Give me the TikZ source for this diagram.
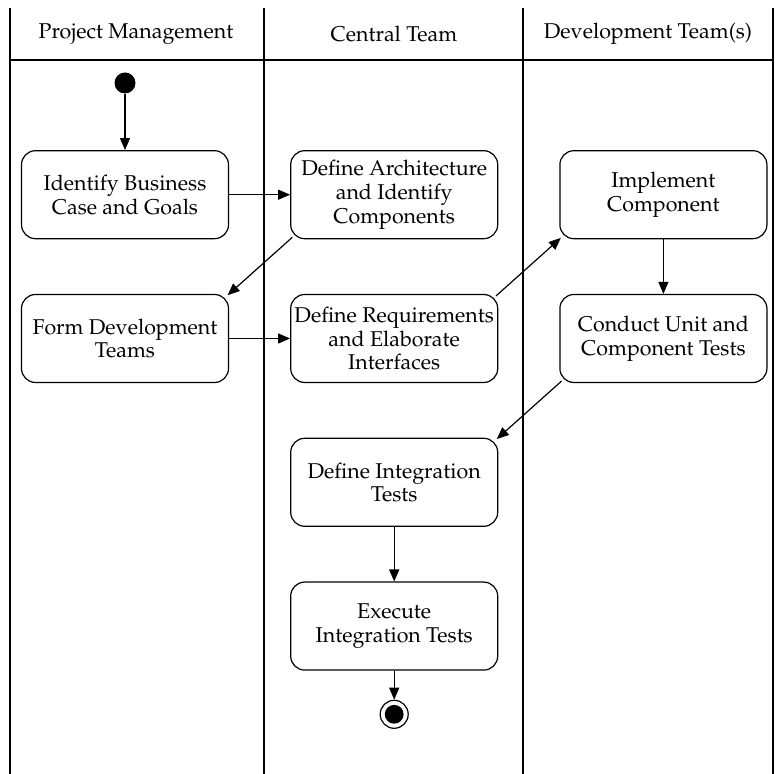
\documentclass[tikz,border=0pt]{standalone}
\usepackage[T1]{fontenc}
\usepackage{mathpazo}
\usetikzlibrary{positioning,arrows.meta}

\begin{document}
\begin{tikzpicture}[x=0.5pt,y=-0.5pt,node distance=27.3pt,>={Triangle[length=6pt,width=5pt]},line width=0.6pt]
\tikzstyle{activity}=[rectangle,rounded corners=7pt,draw=black,align=center,minimum width=103.5pt,minimum height=44pt,inner sep=1pt,font=\fontsize{10.7}{11.8}\selectfont]
\tikzstyle{lanehead}=[font=\fontsize{10.7}{11.8}\selectfont]
\tikzstyle{startdot}=[circle,fill=black,inner sep=0pt,minimum size=10.5pt]
\tikzstyle{enddot}=[circle,draw=black,inner sep=0pt,minimum size=14pt,
  path picture={\fill (path picture bounding box.center) circle (4.7pt);}]
\tikzstyle{cross}=[->,shorten <=-1.5pt,shorten >=-1pt]
\useasboundingbox (0,0) rectangle (783,774);
% swimlanes
\draw (10,8) -- (10,774);
\draw (264,8) -- (264,774);
\draw (523,8) -- (523,774);
\draw (773,8) -- (773,774);
\draw (10,60) -- (773,60);
\node[lanehead] (pm) at (136,34) {Project Management};
\node[lanehead] (ct) at (394,34) {Central Team};
\node[lanehead] (dt) at (648,34) {Development Team(s)};
% activities
\node[startdot] (start) at (125,83) {};
\node[activity, below=28pt of start] (biz) {Identify Business\\Case and Goals};
\node[activity, right=30.5pt of biz] (arch) {Define Architecture\\and Identify\\Components};
\node[activity, right=30.5pt of arch] (impl) {Implement\\Component};
\node[activity, below=of biz] (teams) {Form Development\\Teams};
\node[activity, below=of arch] (reqs) {Define Requirements\\and Elaborate\\Interfaces};
\node[activity, below=of impl] (unit) {Conduct Unit and\\Component Tests};
\node[activity, below=of reqs] (integ) {Define Integration\\Tests};
\node[activity, below=of integ] (exec) {Execute\\Integration Tests};
\node[enddot, below=14.5pt of exec] (stop) {};
% control flow
\draw[->] (start) -- (biz);
\draw[->] (biz) -- (arch);
\draw[cross] (arch.south west) -- (teams.north east);
\draw[->] (teams) -- (reqs);
\draw[cross] (reqs.north east) -- (impl.south west);
\draw[->] (impl) -- (unit);
\draw[cross] (unit.south west) -- (integ.north east);
\draw[->] (integ) -- (exec);
\draw[->] (exec) -- (stop);
\end{tikzpicture}
\end{document}
